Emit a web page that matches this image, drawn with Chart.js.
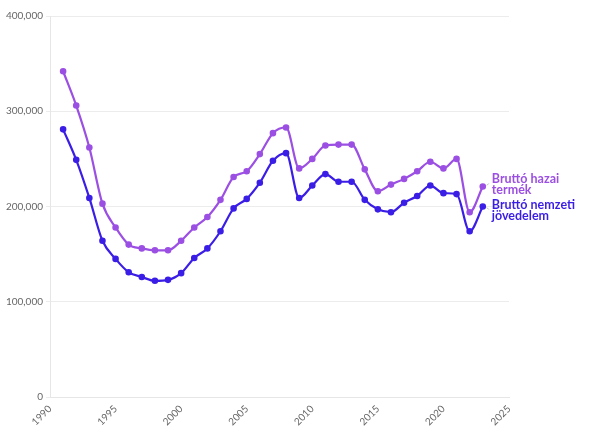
<!DOCTYPE html>
<html>
<head>
<meta charset="utf-8">
<script src="https://cdn.jsdelivr.net/npm/chart.js@4"></script>
<style>
  html, body { margin: 0; padding: 0; background: #fff; }
  #wrap { width: 602px; height: 436px; }
</style>
</head>
<body>
<div id="wrap"><canvas id="chart" width="602" height="436"></canvas></div>
<script>
const years = [1991, 1992, 1993, 1994, 1995, 1996, 1997, 1998, 1999, 2000,
  2001, 2002, 2003, 2004, 2005, 2006, 2007, 2008, 2009, 2010,
  2011, 2012, 2013, 2014, 2015, 2016, 2017, 2018, 2019, 2020,
  2021, 2022, 2023];

const gdp = [342000, 306000, 262000, 203000, 178000, 160000, 156000, 154000, 154000, 164000,
  178000, 189000, 207000, 231000, 237000, 255000, 277000, 283000, 240000, 250000,
  264000, 265000, 265000, 239000, 216000, 223000, 229000, 237000, 247000, 240000,
  250000, 194000, 221000];

const gni = [281000, 249000, 209000, 164000, 145000, 131000, 126000, 122000, 123000, 130000,
  146000, 156000, 174000, 198000, 208000, 225000, 248000, 256000, 209000, 222000,
  234000, 226000, 226000, 207000, 197000, 194000, 204000, 211000, 222000, 214000,
  213000, 174000, 200000];

const seriesNames = [["Bruttó hazai", "termék"], ["Bruttó nemzeti", "jövedelem"]];
const xTicks = [1990, 1995, 2000, 2005, 2010, 2015, 2020, 2025];
const yTicks = [0, 100000, 200000, 300000, 400000];

const colGdp = '#9b4fe3';
const colGni = '#3b1ee6';
const fontFam = 'Lato, "Noto Sans", sans-serif';

function toPoints(vals) {
  return years.map((y, i) => ({ x: y, y: vals[i] }));
}

// draws the series names next to the last point
const endLabels = {
  id: 'endLabels',
  afterDatasetsDraw(chart) {
    const ctx = chart.ctx;
    const offsets = [-2, 4];
    const lh = 11.5;
    chart.data.datasets.forEach((ds, i) => {
      const meta = chart.getDatasetMeta(i);
      const pt = meta.data[meta.data.length - 1];
      const lx = pt.x + 9;
      const ly = pt.y + offsets[i];
      ctx.save();
      ctx.strokeStyle = '#bbb';
      ctx.lineWidth = 1;
      ctx.beginPath();
      ctx.moveTo(pt.x + 4, pt.y + (i === 0 ? -1 : 1));
      ctx.lineTo(pt.x + 6, pt.y + (i === 0 ? -3 : 3));
      ctx.stroke();
      ctx.fillStyle = ds.borderColor;
      ctx.font = 'bold 12.5px ' + fontFam;
      ctx.textBaseline = 'middle';
      const lines = seriesNames[i];
      const top = ly - (lines.length - 1) * lh / 2;
      lines.forEach((t, k) => ctx.fillText(t, lx, top + k * lh));
      ctx.restore();
    });
  }
};

new Chart(document.getElementById('chart').getContext('2d'), {
  type: 'line',
  data: {
    datasets: [
      {
        label: seriesNames[0].join(' '),
        data: toPoints(gdp),
        borderColor: colGdp,
        backgroundColor: colGdp,
        borderWidth: 2.2,
        pointRadius: 2.2,
        cubicInterpolationMode: 'monotone',
        fill: false
      },
      {
        label: seriesNames[1].join(' '),
        data: toPoints(gni),
        borderColor: colGni,
        backgroundColor: colGni,
        borderWidth: 2.2,
        pointRadius: 2.2,
        cubicInterpolationMode: 'monotone',
        fill: false
      }
    ]
  },
  options: {
    responsive: false,
    animation: false,
    layout: { padding: { top: 16, right: 93, left: 0, bottom: 0 } },
    plugins: {
      legend: { display: false },
      tooltip: { enabled: false }
    },
    scales: {
      x: {
        type: 'linear',
        min: 1990,
        max: 2025,
        afterBuildTicks: s => { s.ticks = xTicks.map(v => ({ value: v })); },
        afterFit: s => { s.height = 39; },
        grid: { display: false, drawTicks: true, tickLength: 4, color: '#e6e6e6' },
        border: { color: '#e6e6e6' },
        ticks: {
          color: '#666',
          font: { family: fontFam, size: 10 },
          maxRotation: 45,
          minRotation: 45,
          padding: 2,
          callback: v => String(v)
        }
      },
      y: {
        min: 0,
        max: 400000,
        afterBuildTicks: s => { s.ticks = yTicks.map(v => ({ value: v })); },
        afterFit: s => { s.width = 50; },
        grid: { color: '#ececec', tickLength: 4 },
        border: { color: '#e6e6e6' },
        ticks: {
          color: '#666',
          font: { family: fontFam, size: 10 },
          padding: 3,
          callback: v => v.toLocaleString('en-US')
        }
      }
    }
  },
  plugins: [endLabels]
});
</script>
</body>
</html>
